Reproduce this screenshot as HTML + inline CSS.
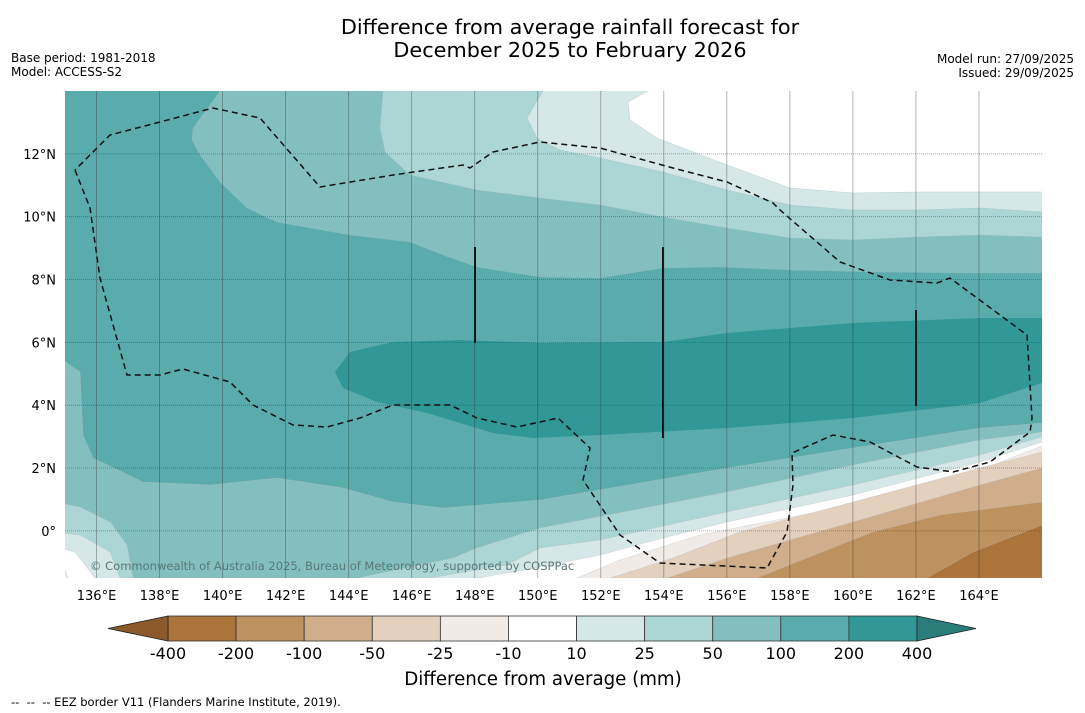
<!DOCTYPE html>
<html><head><meta charset="utf-8">
<style>
body{margin:0;width:1085px;height:713px;background:#fff;overflow:hidden;font-family:"Liberation Sans","DejaVu Sans",sans-serif;}
svg{position:absolute;left:0;top:0}
</style></head><body>
<svg id="chart" width="1085" height="713">
<text x="570" y="34" text-anchor="middle" font-size="20.8" font-family="DejaVu Sans, sans-serif">Difference from average rainfall forecast for</text>
<text x="570" y="57" text-anchor="middle" font-size="20.8" font-family="DejaVu Sans, sans-serif">December 2025 to February 2026</text>
<text x="11" y="62" font-size="12" font-family="DejaVu Sans, sans-serif">Base period: 1981-2018</text>
<text x="11" y="76" font-size="12" font-family="DejaVu Sans, sans-serif">Model: ACCESS-S2</text>
<text x="1074" y="63" text-anchor="end" font-size="12" font-family="DejaVu Sans, sans-serif">Model run: 27/09/2025</text>
<text x="1074" y="77" text-anchor="end" font-size="12" font-family="DejaVu Sans, sans-serif">Issued: 29/09/2025</text>
<defs><clipPath id="clip"><rect x="65" y="91" width="977" height="487"/></clipPath></defs>
<g id="map" clip-path="url(#clip)"></g>
<g id="grid"></g>
<g id="ticks"></g>
<text x="90" y="570" font-size="11.5" fill="#5a7878" font-family="DejaVu Sans, sans-serif">© Commonwealth of Australia 2025, Bureau of Meteorology, supported by COSPPac</text>
<g id="cbar"></g>
<text x="543" y="685" text-anchor="middle" font-size="18.2" font-family="DejaVu Sans, sans-serif">Difference from average (mm)</text>
<text x="11" y="706" font-size="11.5" font-family="DejaVu Sans, sans-serif" xml:space="preserve">--  --  -- EEZ border V11 (Flanders Marine Institute, 2019).</text>
</svg>
<script>
const levels=[-400,-200,-100,-50,-25,-10,10,25,50,100,200,400];
const levelColors=["#ab743a","#be925f","#d0ad8b","#e3d0bd","#f0ebe6","#ffffff","#d5e8e7","#acd5d5","#83bfbf","#5aabab","#319797"];
const lonTicks=[136,138,140,142,144,146,148,150,152,154,156,158,160,162,164];
const latTicks=[0,2,4,6,8,10,12];
const lonMin=135,lonMax=166,latMin=-1.5,latMax=14;
const X=lon=>65+(lon-lonMin)/(lonMax-lonMin)*977;
const Y=lat=>578-(lat-latMin)/(latMax-latMin)*487;
const NS="http://www.w3.org/2000/svg";
function mk(t,a,p){const e=document.createElementNS(NS,t);for(const k in a)e.setAttribute(k,a[k]);p.appendChild(e);return e;}
const map=document.getElementById('map');
const pts=a=>a.map(p=>p.join(',')).join(' ');
let b=mk('rect',{x:65,y:91,width:977,height:487,fill:levelColors[9]},map);


const north=[
 [8,[[220,91],[193,128],[192,140],[200,155],[220,182],[247,208],[277,222],[350,235],[410,242],[443,255],[477,267],[540,277],[600,278],[663,268],[720,267],[793,270],[873,272],[973,273],[1042,273]]],
 [7,[[383,91],[380,128],[385,152],[410,175],[477,190],[540,198],[600,205],[663,217],[727,228],[790,238],[853,240],[917,237],[980,235],[1042,237]]],
 [6,[[543,91],[527,118],[537,138],[560,150],[600,158],[663,172],[727,190],[790,205],[853,210],[917,210],[980,208],[1042,212]]],
 [5,[[648,91],[628,102],[630,120],[657,138],[727,165],[790,188],[853,193],[917,192],[1042,192]]]
];
north.forEach(([ci,line])=>{const a=line.concat([[1050,line[line.length-1][1]],[1050,85]]);a.unshift([line[0][0],85]);
 const p=mk('polygon',{points:pts(a),fill:levelColors[ci],stroke:'#9bb',"stroke-width":0.3},map);
 
 });
const south=[
 [8,[[60,358],[80,372],[83,435],[93,458],[143,482],[210,485],[277,478],[343,488],[393,502],[443,508],[540,500],[727,468],[853,448],[980,428],[1042,423]]],
 [7,[[60,503],[80,507],[110,522],[127,545],[133,578],[300,590],[453,558],[477,548],[540,528],[727,492],[853,465],[980,440],[1042,432]]],
 [6,[[60,533],[80,535],[110,552],[120,578],[300,600],[507,565],[540,548],[600,540],[727,512],[853,485],[980,455],[1042,437]]],
 [5,[[60,548],[75,552],[95,578],[300,610],[540,567],[600,555],[663,538],[727,522],[853,495],[980,462],[1042,442]]],
 [4,[[60,555],[68,578],[300,620],[577,578],[620,560],[700,535],[853,505],[980,470],[1042,446]]],
 [3,[[610,578],[673,558],[740,532],[853,502],[980,468],[1042,452]]],
 [2,[[667,578],[727,558],[853,522],[980,485],[1042,468]]],
 [1,[[757,578],[807,558],[873,532],[940,515],[1042,502]]],
 [0,[[927,578],[973,552],[1042,525]]]
];
south.forEach(([ci,line])=>{const a=line.concat([[1050,line[line.length-1][1]],[1050,590]]);a.push([line[0][0]-5,590]);
 const p=mk('polygon',{points:pts(a),fill:levelColors[ci],stroke:'#bbb',"stroke-width":0.3},map);
 
 });
const core=[[335,372],[350,352],[393,342],[460,340],[540,343],[663,342],[727,333],[853,323],[980,318],[1045,318],[1045,382],[980,403],[853,418],[727,428],[600,435],[533,438],[493,433],[427,413],[377,402],[343,388]];
const c=mk('polygon',{points:pts(core),fill:levelColors[10]},map);


const eez=[[75,170],[90,208],[100,278],[127,375],[160,375],[183,369],[230,382],[253,405],[293,425],[327,427],[360,418],[393,405],[450,405],[477,418],[517,427],[558,418],[590,448],[583,480],[620,535],[660,563],[767,568],[787,532],[793,485],[792,453],[833,435],[870,442],[917,467],[953,472],[990,462],[1030,432],[1032,418],[1027,335],[950,278],[937,283],[890,280],[840,262],[780,210],[773,203],[727,182],[673,168],[600,148],[540,142],[493,152],[470,168],[463,165],[393,175],[320,187],[260,118],[213,108],[160,122],[110,135],[75,170]];
const e=mk('polyline',{points:pts(eez),fill:'none',stroke:'#111',"stroke-width":1.5,"stroke-dasharray":"6,4"},map);


[[475,247,343],[663,247,438],[916,310,406]].forEach(([x,y1,y2])=>{const l=mk('line',{x1:x,y1:y1,x2:x,y2:y2,stroke:'#111',"stroke-width":2},map);
 
 });
const grid=document.getElementById('grid'),ticks=document.getElementById('ticks');
lonTicks.forEach(v=>{const l=mk('line',{x1:X(v),y1:91,x2:X(v),y2:578,stroke:'#333',"stroke-opacity":0.45,"stroke-width":0.8},grid);
 
 
 const t=mk('text',{x:X(v),y:600,"text-anchor":"middle","font-size":13,"font-family":"DejaVu Sans, sans-serif"},ticks);t.textContent=v+'°E';
 
 });
latTicks.forEach(v=>{const l=mk('line',{x1:65,y1:Y(v),x2:1042,y2:Y(v),stroke:'#333',"stroke-opacity":0.5,"stroke-width":0.8,"stroke-dasharray":"1,1"},grid);
 
 
 const t=mk('text',{x:56,y:Y(v)+5,"text-anchor":"end","font-size":13,"font-family":"DejaVu Sans, sans-serif"},ticks);t.textContent=v===0?'0°':v+'°N';
 
 });
const cb=document.getElementById('cbar');const x0=168,x1=917,w=(x1-x0)/levelColors.length;
levelColors.forEach((col,i)=>{const r=mk('rect',{x:x0+i*w,y:616,width:w,height:25,fill:col,stroke:'#333',"stroke-width":0.8},cb);
 
 });
const lt=mk('polygon',{points:`${x0},616 108,628.5 ${x0},641`,fill:'#8c5a2a',stroke:'#222',"stroke-width":0.8},cb);


const rt=mk('polygon',{points:`${x1},616 976,628.5 ${x1},641`,fill:'#2a7d7a',stroke:'#222',"stroke-width":0.8},cb);


levels.forEach((v,i)=>{const t=mk('text',{x:x0+i*w,y:659,"text-anchor":"middle","font-size":16,"font-family":"DejaVu Sans, sans-serif"},cb);t.textContent=v;
 
 });
</script>
</body></html>
